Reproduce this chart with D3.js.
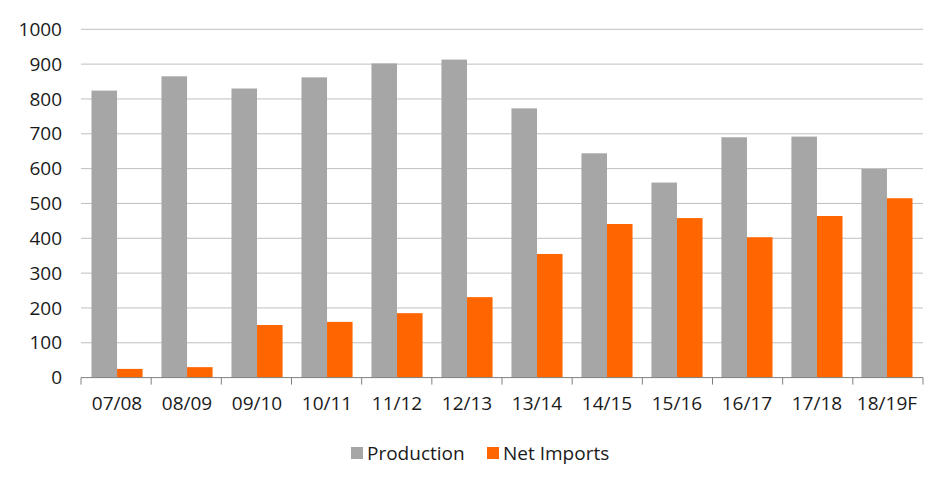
<!DOCTYPE html>
<html><head><meta charset="utf-8">
<script src="https://cdn.jsdelivr.net/npm/d3@7"></script>
<style>body{margin:0;background:#fff}svg{display:block;font-family:"Open Sans",sans-serif}</style>
</head><body><svg id="c" width="952" height="491"></svg>
<script>
const categories = ["07/08","08/09","09/10","10/11","11/12","12/13","13/14","14/15","15/16","16/17","17/18","18/19F"];
const production = [824, 865, 830, 862, 902, 913, 773, 644, 560, 690, 692, 599];
const netImports = [25, 30, 151, 160, 185, 231, 355, 441, 458, 403, 464, 515];
const yTicks = [0,100,200,300,400,500,600,700,800,900,1000];
const seriesNames = ["Production","Net Imports"];
const colors = ["#a6a6a6","#ff6600"];

const svg = d3.select("#c");
const L = 81, R = 923, T = 29.3, B = 377.6;
const x = d3.scaleBand().domain(categories).range([L, R]).paddingInner(0.27).paddingOuter(0.15);
const xs = d3.scaleBand().domain([0,1]).range([0, x.bandwidth()]);
const y = d3.scaleLinear().domain([0,1000]).range([B, T]);

// gridlines
svg.append("g").selectAll("line").data(yTicks.slice(1)).join("line")
  .attr("x1", L).attr("x2", R).attr("y1", d=>y(d)).attr("y2", d=>y(d))
  .attr("stroke", "#bfbfbf").attr("stroke-width", 1);

// y labels
const ya = svg.append("g").attr("transform", `translate(${L},0)`)
  .call(d3.axisLeft(y).tickValues(yTicks).tickSize(0).tickPadding(19).tickFormat(d3.format("d")));
ya.select(".domain").remove();
ya.selectAll("text").attr("font-size", 19).attr("fill", "#1a1a1a").attr("font-family","Open Sans");

// bars
const data = [production, netImports];
data.forEach((vals, si) => {
  svg.append("g").selectAll("rect").data(vals).join("rect")
    .attr("x", (d,i)=>x(categories[i]) + xs(si))
    .attr("width", xs.bandwidth())
    .attr("y", d=>y(d)).attr("height", d=>B - y(d))
    .attr("fill", colors[si]);
});

// x axis
const xb = d3.scaleLinear().domain([0, categories.length]).range([L, R]);
const xa = svg.append("g").attr("transform", `translate(0,${B})`);
xa.append("line").attr("x1", L).attr("x2", R).attr("stroke", "#808080");
xa.selectAll("line.t").data(d3.range(categories.length+1)).join("line").attr("class","t")
  .attr("x1", d=>xb(d)).attr("x2", d=>xb(d)).attr("y1", 0).attr("y2", 7).attr("stroke", "#808080");
xa.selectAll("text").data(categories).join("text")
  .attr("x", d=>x(d) + x.bandwidth()/2).attr("y", 32)
  .attr("text-anchor","middle").attr("font-size", 19).attr("fill","#1a1a1a").text(d=>d);

// legend
const leg = svg.append("g").attr("transform","translate(0,453)");
const lx = [351, 487];
seriesNames.forEach((n,i)=>{
  leg.append("rect").attr("x", lx[i]).attr("y", -6).attr("width", 12).attr("height", 12).attr("fill", colors[i]);
  leg.append("text").attr("x", lx[i]+16).attr("y", 7).attr("font-size", 19).attr("fill","#1a1a1a").text(n);
});
</script></body></html>
